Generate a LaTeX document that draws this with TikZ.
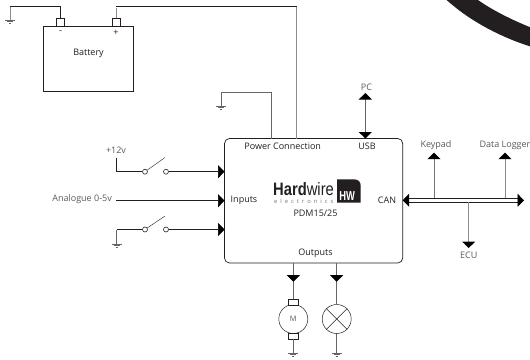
\documentclass[tikz,border=0pt]{standalone}
\usepackage{fontspec}
\setmainfont{Open Sans}
\newfontfamily\logofont{Liberation Sans}
\usetikzlibrary{arrows.meta}
\definecolor{ink}{HTML}{231F20}
\tikzset{
  wire/.style={draw=ink,line width=0.7pt},
  gwire/.style={draw=black!45,line width=1pt},
  tipend/.style={-{Triangle[width=13pt,length=6.5pt,color=black]}},
  tipboth/.style={{Triangle[width=13pt,length=6.5pt,color=black]}-{Triangle[width=13pt,length=6.5pt,color=black]}},
  lab/.style={font=\fontsize{9}{11}\selectfont,text=ink,inner sep=0pt},
  olab/.style={font=\fontsize{9}{11}\selectfont,text=black!65,inner sep=0pt},
  contact/.style={circle,draw=ink,fill=white,line width=0.6pt,minimum size=5pt,inner sep=0pt},
  term/.style={rectangle,draw=ink,fill=white,line width=0.7pt,minimum width=8pt,minimum height=7.5pt,inner sep=0pt},
  brush/.style={rectangle,draw=ink,fill=white,line width=0.5pt,minimum width=9.5pt,minimum height=6pt,inner sep=0pt},
  round device/.style={circle,draw=ink,line width=0.5pt,minimum size=29pt,inner sep=0pt},
  blade/.style={draw=ink,line width=0.4pt},
  gnd/.pic={\draw[black!60,line width=0.8pt] (-5,0)--(5,0); \draw[black!60,line width=0.8pt] (-3,1.5)--(3,1.5); \draw[black!60,line width=0.8pt] (-1,3)--(1,3);}
}
\begin{document}
\begin{tikzpicture}[x=1pt,y=-1pt]
\useasboundingbox (0,0) rectangle (530,359);
\clip (0,0) rectangle (530,359);
% swoosh
\fill[ink] (446.6,0) .. controls (470,21) and (500,37) .. (532,47) -- (532,28) .. controls (512,20) and (492,10) .. (478,0) -- cycle;

% main blocks
\node[draw=ink,line width=0.7pt,minimum width=89.5pt,minimum height=65pt,inner sep=0pt] (battery) at (88.25,58.5) {};
\node[lab] (batlabel) at (88.5,53.5) {Battery};
\node[term] (neg) at (60.5,22.25) {};
\node[term] (pos) at (116,22.25) {};
\node[lab] (minus) at (60.5,32.5) {-};
\node[lab] (plus) at (116,32.5) {+};
\draw[draw=ink,line width=0.7pt,rounded corners=5pt] (224.5,138.5) rectangle (402.7,263);

% battery wiring
\coordinate (g1) at (10,20);
\coordinate (n1) at (60.5,6.5);
\coordinate (n2) at (10,6.5);
\coordinate (p1) at (116,6.5);
\coordinate (p2) at (296.5,6.5);
\coordinate (p3) at (296.5,138.5);
\draw[wire] (neg.north) -- (n1) -- (n2);
\draw[gwire] (n2) -- (g1);
\draw[gwire] (pos.north) -- (116,8);
\draw[wire] (p1) -- (p2);
\draw[gwire] (p2) -- (p3);
\pic at (g1) {gnd};

\coordinate (g2) at (221,106);
\coordinate (g2a) at (221,92.5);
\coordinate (g2b) at (271.5,92.5);
\coordinate (g2c) at (271.5,138.5);
\draw[draw=black!60,line width=0.7pt] (g2) -- (g2a) -- (g2b) -- (g2c);
\pic at (g2) {gnd};

% USB
\coordinate (pc) at (365.3,93);
\coordinate (usbin) at (365.3,138.5);
\draw[draw=black!60,line width=0.8pt,tipboth] (pc) -- (usbin);
\node[olab] (pclabel) at (366.5,87) {PC};

% inputs
\coordinate (v12) at (116.5,158);
\coordinate (c1) at (116.5,171.7);
\coordinate (in1) at (224.5,171.7);
\coordinate (an) at (116,200.7);
\coordinate (in2) at (224.5,200.7);
\coordinate (c3) at (116.5,229.5);
\coordinate (g3) at (116.5,244);
\coordinate (in3) at (224.5,229.5);
\node[contact] (s1a) at (145,171.7) {};
\node[contact] (s1b) at (166,171.7) {};
\node[contact] (s3a) at (145,229.5) {};
\node[contact] (s3b) at (166,229.5) {};
\coordinate (b1) at (165,157.5);
\coordinate (b3) at (165,216);
\draw[wire] (v12) -- (c1) -- (s1a);
\draw[blade] (s1a) -- (b1);
\draw[wire,tipend] (s1b) -- (in1);
\draw[wire,tipend] (an) -- (in2);
\draw[draw=black!60,line width=0.7pt] (g3) -- (c3);
\draw[wire] (c3) -- (s3a);
\draw[blade] (s3a) -- (b3);
\draw[wire,tipend] (s3b) -- (in3);
\pic at (g3) {gnd};
\node[olab] (l12) at (116,150) {+12v};
\node[olab,anchor=east] (lan) at (112,199.5) {Analogue 0-5v};

% CAN bus
\coordinate (canL) at (402.7,200.3);
\coordinate (canR) at (524,200.3);
\draw[draw=ink,line width=0.7pt,double=white,double distance=3pt,{Triangle[width=13pt,length=6.5pt,color=black]}-{Triangle[width=13pt,length=6.5pt,color=black]}] (canL) -- (canR);
\coordinate (kb) at (434,198.3);
\coordinate (kt) at (434,152.7);
\coordinate (db) at (505,198.3);
\coordinate (dt) at (505,152.7);
\coordinate (eb) at (468.7,202.3);
\coordinate (et) at (468.7,248);
\draw[draw=black!55,line width=0.8pt,tipend] (kb) -- (kt);
\draw[gwire,tipend] (db) -- (dt);
\draw[gwire,tipend] (eb) -- (et);
\node[olab] (lk) at (436,145) {Keypad};
\node[olab] (ld) at (505,145) {Data Logger};
\node[olab] (le) at (468.7,255) {ECU};

% outputs
\node[round device] (motor) at (293.3,319) {};
\node[olab,font=\fontsize{7.5}{9}\selectfont] (mlabel) at (293.3,319) {M};
\node[brush] (bt) at (293.3,302.2) {};
\node[brush] (bb) at (293.3,336) {};
\node[round device] (lamp) at (336.7,319) {};
\draw[draw=ink,line width=0.5pt] (lamp.north east) -- (lamp.south west);
\draw[draw=ink,line width=0.5pt] (lamp.north west) -- (lamp.south east);
\coordinate (o1) at (293.3,263);
\coordinate (o1t) at (293.3,281.7);
\coordinate (o2) at (336.7,263);
\coordinate (o2t) at (336.7,281.7);
\coordinate (g4) at (293.3,353);
\coordinate (g5) at (336.7,353);
\draw[draw=black!60,line width=0.7pt] (o1) -- (bt.north);
\draw[draw=black!60,line width=0.7pt,tipend] (o1) -- (o1t);
\draw[draw=black!60,line width=0.7pt] (o2) -- (lamp.north);
\draw[draw=black!60,line width=0.7pt,tipend] (o2) -- (o2t);
\draw[draw=black!60,line width=0.7pt] (bb.south) -- (g4);
\draw[draw=black!60,line width=0.7pt] (lamp.south) -- (g5);
\pic at (g4) {gnd};
\pic at (g5) {gnd};

% labels in main box
\node[lab] (lpower) at (282.7,146) {Power Connection};
\node[lab] (lusb) at (367,146) {USB};
\node[lab] (linputs) at (244,200.5) {Inputs};
\node[lab] (lcan) at (387,200.5) {CAN};
\node[lab] (lout) at (315.5,253.5) {Outputs};
\node[lab] (lpdm) at (315.5,213.5) {PDM15/25};

% logo
\node[anchor=base west,inner sep=0pt,text=ink] (hard) at (273,195.5) {\logofont\fontsize{18}{18}\selectfont\scalebox{0.82}[1]{\bfseries Hard\mdseries wire}};
\node[anchor=base west,inner sep=0pt,text=black!55] (elec) at (274,203) {\fontsize{5.8}{6}\selectfont e\hspace{3pt}l\hspace{3pt}e\hspace{3pt}c\hspace{3pt}t\hspace{3pt}r\hspace{3pt}o\hspace{3pt}n\hspace{3pt}i\hspace{3pt}c\hspace{3pt}s};
\fill[ink] (337,179.3) -- (354,179.3) .. controls (358.5,179.3) and (360.7,182) .. (360.7,186) -- (360.7,202.7) -- (337,202.7) -- cycle;
\node[inner sep=0pt,text=white] (hw) at (347.2,196) {\logofont\bfseries\fontsize{13}{13}\selectfont\scalebox{0.72}[1]{HW}};
\end{tikzpicture}
\end{document}
